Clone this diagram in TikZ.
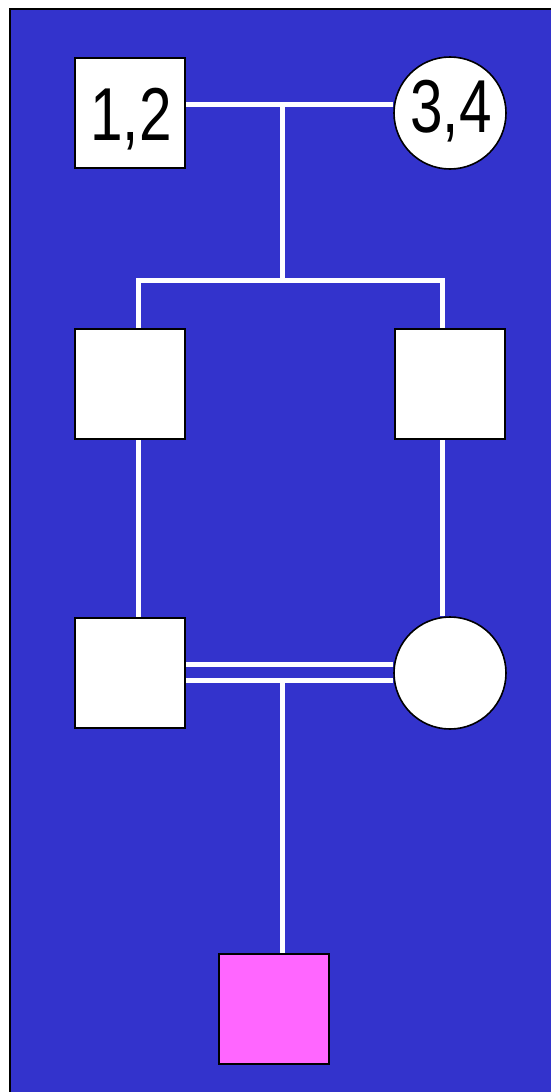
\documentclass[tikz,border=0pt]{standalone}
\usepackage{fontspec}
\setmainfont{Liberation Sans}
\definecolor{bgblue}{HTML}{3333CC}
\definecolor{pinkfill}{HTML}{FF66FF}
\begin{document}
\begin{tikzpicture}[x=1pt,y=-1pt,
  male/.style={draw=black,line width=2pt,fill=white,minimum size=110pt,inner sep=0pt,rectangle},
  female/.style={draw=black,line width=1.6pt,fill=white,minimum size=112pt,inner sep=0pt,circle},
  rel/.style={draw=white,line width=5pt},
  lbl/.style={font=\fontsize{75}{75}\selectfont,xscale=0.78}]
\useasboundingbox (0,0) rectangle (550,1092);
\fill[bgblue] (10,9) rectangle (560,1100);
\draw[black,line width=2.5pt] (10,1100) -- (10,9) -- (560,9);
% coordinates
\coordinate (m1) at (282,104);
\coordinate (m2) at (282,280);
\coordinate (cl) at (138,280);
\coordinate (cr) at (442,280);
\coordinate (m3) at (282,680.5);
\coordinate (m4) at (282,664.5);
% nodes
\node[male] (a) at (130,113) {};
\node[female] (b) at (450,113) {};
\node[male] (c) at (130,384) {};
\node[male] (d) at (450,384) {};
\node[male] (e) at (130,673) {};
\node[female] (f) at (450,673) {};
\node[male,fill=pinkfill] (g) at (274,1009) {};
% connectors
\draw[rel] (a.east |- m1) -- (b.west |- m1);
\draw[rel] (m1) -- (m2);
\draw[rel] (cl |- c.north) -- (cl) -- (cr) -- (cr |- d.north);
\draw[rel] (c.south -| cl) -- (cl |- e.north);
\draw[rel] (d.south -| cr) -- (cr |- f.north);
\draw[rel] (e.east |- m4) -- (f.west |- m4);
\draw[rel] (e.east |- m3) -- (f.west |- m3);
\draw[rel] (m3) -- (m3 |- g.north);
% labels
\node[lbl] (la) at (131,119) {1,2};
\node[lbl] (lb) at (451,111) {3,4};
\end{tikzpicture}
\end{document}
